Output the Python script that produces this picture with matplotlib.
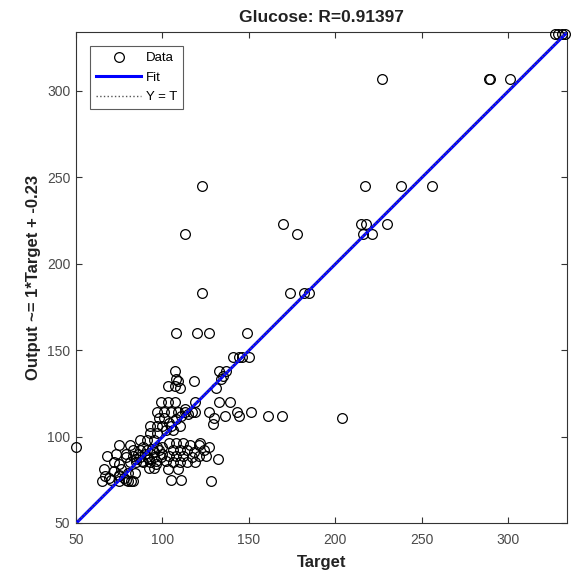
import numpy as np
import matplotlib
matplotlib.use("Agg")
import matplotlib.pyplot as plt

plt.rcParams['font.family'] = ['Liberation Sans', 'DejaVu Sans']

# Target / Output pairs (Glucose regression)
target = [
    50,
    108, 120, 127, 149,
    123, 113, 170, 178,
    123, 174, 182, 185,
    227, 289, 289.5, 301,
    327, 329, 331, 333,
    217, 238, 256,
    215, 218, 230, 216, 221,
    141, 144, 146, 150,
    133, 137, 135,
    107, 108, 109, 118,
    103, 107, 110, 131, 134,
    99, 103, 107, 119, 133, 139,
    97, 101, 105, 109, 113, 117, 119, 127, 143, 151,
    98, 101, 130, 136, 144, 161, 169, 204,
    93, 97, 100, 105, 129,
    93, 97, 102,
    87, 91, 95,
    75, 81, 104, 108, 112, 116, 121, 127, 122, 97, 100,
    83, 87, 91, 95, 106, 110, 114, 118, 79, 73, 68,
    87, 91, 95, 99, 104, 108, 112, 117, 83, 79, 125,
    81, 85, 89, 93, 106, 110, 114, 119, 72, 75, 132,
    96, 92, 95, 66, 76, 80, 84, 103, 109,
    65, 69, 70, 67, 72, 75, 75, 78, 80, 75, 79, 82, 83, 105, 111, 128,
    86, 88, 90, 92, 94, 89, 85, 98, 100, 102, 96,
    104, 106, 108, 111, 113, 115, 110, 121, 124,
]
output = [
    94,
    160, 160, 160, 160,
    245, 217, 223, 217,
    183, 183, 183, 183,
    307, 307, 307, 307,
    333, 333, 333, 333,
    245, 245, 245,
    223, 223, 223, 217, 217,
    146, 146, 146, 146,
    138, 138, 135,
    138, 133, 132, 132,
    129, 129, 128, 128, 133,
    120, 120, 120, 120, 120, 120,
    114, 114, 114, 114, 114, 114, 114, 114, 114, 114,
    111, 111, 111, 112, 112, 112, 112, 111,
    106, 106, 106, 106, 107,
    102, 102, 104,
    98, 98, 98,
    95, 95, 96, 96, 96, 95, 95, 94, 96, 94, 94,
    92, 92, 92, 91, 92, 92, 92, 91, 90, 90, 89,
    88, 88, 88, 88, 89, 89, 89, 88, 89, 88, 89,
    85, 85, 85, 85, 85, 85, 85, 85, 85, 84, 87,
    84, 82, 82, 81, 81, 79, 79, 81, 81,
    74, 76, 75, 77, 80, 78, 77, 76, 74, 74, 75, 74, 74, 75, 75, 74,
    90, 86, 90, 87, 93, 94, 87, 92, 90, 86, 86,
    108, 104, 110, 112, 116, 113, 106, 89, 92,
]

slope = 1.0
offset = -0.23
r_value = 0.91397
lim = (50, 334)
ticks = [50, 100, 150, 200, 250, 300]

fig = plt.figure(figsize=(5.73, 5.82), dpi=100)
ax = fig.add_axes([0.1326, 0.1014, 0.857, 0.8436])

ax.plot(target, output, 'o', mfc='none', mec='black', ms=7, mew=0.9,
        label='Data', clip_on=False, zorder=3)
xfit = np.array(lim)
ax.plot(xfit, slope * xfit + offset, '-', color=(0, 0, 1), lw=2.2,
        label='Fit', zorder=4)
ax.plot(xfit, xfit, ':', color='#555555', lw=1, label='Y = T', zorder=5)

ax.set_xlim(lim)
ax.set_ylim(lim)
ax.set_xticks(ticks)
ax.set_yticks(ticks)
ax.tick_params(direction='in', length=4, width=0.8, top=True, right=True,
               labelsize=10, labelcolor='#4a4a4a', color='#333333')
ax.tick_params(axis='x', pad=7)
ax.tick_params(axis='y', pad=4)
for s in ax.spines.values():
    s.set_color('#333333')
    s.set_linewidth(0.8)

ax.set_title(f'Glucose: R={r_value:.5f}', fontsize=12.5, fontweight='bold',
             color='#222222', pad=7)
ax.set_xlabel('Target', fontsize=12, fontweight='bold', color='#222222', labelpad=6)
ax.set_ylabel(f'Output ~= {slope:g}*Target + {offset:g}', fontsize=12,
              fontweight='bold', color='#222222', labelpad=4)

leg = ax.legend(loc='upper left', fontsize=9.5, frameon=True, fancybox=False,
                edgecolor='#333333', handlelength=3.4, borderpad=0.45,
                labelspacing=0.55, handletextpad=0.4, borderaxespad=0,
                bbox_to_anchor=(0.029, 0.971))
leg.get_frame().set_linewidth(0.8)

fig.savefig('out.png', dpi=100)
